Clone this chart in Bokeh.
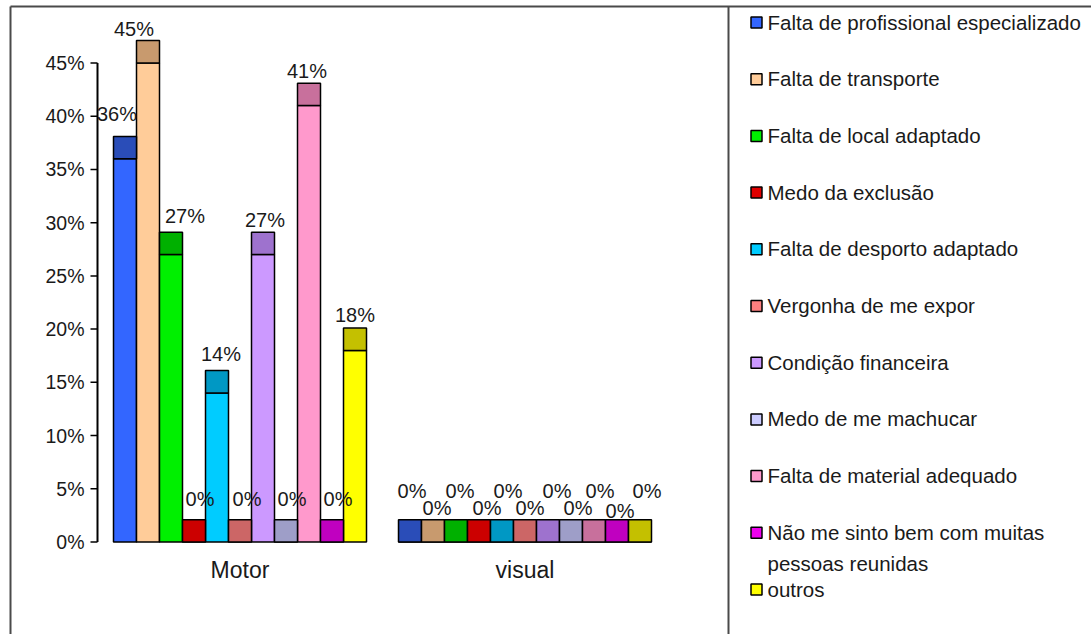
from bokeh.plotting import figure
from bokeh.models import Range1d, ColumnDataSource
from bokeh.core.properties import value
from bokeh.embed import file_html
from bokeh.resources import INLINE

# ---- data -------------------------------------------------------------
groups = ["Motor", "visual"]
reasons = [
    "Falta de profissional especializado",
    "Falta de transporte",
    "Falta de local adaptado",
    "Medo da exclusão",
    "Falta de desporto adaptado",
    "Vergonha de me expor",
    "Condição financeira",
    "Medo de me machucar",
    "Falta de material adequado",
    "Não me sinto bem com muitas\npessoas reunidas",
    "outros",
]
motor = [36, 45, 27, 0, 14, 0, 27, 0, 41, 0, 18]
visual = [0, 0, 0, 0, 0, 0, 0, 0, 0, 0, 0]
y_ticks = [0, 5, 10, 15, 20, 25, 30, 35, 40, 45]
y_tick_labels = ["0%", "5%", "10%", "15%", "20%", "25%", "30%", "35%", "40%", "45%"]

# ---- styling ----------------------------------------------------------
face = ["#3366FF", "#FFCC99", "#00F000", "#E00000", "#00CCFF", "#FF8080",
        "#CC99FF", "#CCCCFF", "#FF99CC", "#EE00EE", "#FFFF00"]
top_face = ["#2A4DB8", "#C89A6E", "#00B000", "#CC0000", "#0098C4", "#CC6666",
            "#9E72CE", "#9E9EC8", "#C8709C", "#C000C0", "#C4C000"]
FONT = "Liberation Sans"
INK = "#1a1a1a"

W, H = 1091, 634
AX_PX = 97          # pixel column of the value axis
SLOT_PX = 285       # pixel width of one category slot
ZERO_PX = 541.5     # pixel row of 0 %
PX_PER_PCT = 10.645
BAR_W = 23 / SLOT_PX
CAP = 2.1           # height of the bar top face, in %

def dx(px):
    return (px - AX_PX) / SLOT_PX

def dy(py):
    return (ZERO_PX - py) / PX_PER_PCT

p = figure(width=W, height=H,
           x_range=Range1d(dx(0), dx(W)), y_range=Range1d(dy(H), dy(0)),
           x_axis_type=None, y_axis_type=None,
           toolbar_location=None, output_backend="svg",
           min_border=0, outline_line_color=None,
           background_fill_color="white", border_fill_color="white")

# ---- bars -------------------------------------------------------------
label_dx = {"Motor": [-8, -14, 14, 6, 4, 7, 2, 6, -2, 6, 0],
            "visual": [2, 4, 4, 8, 6, 5, 9, 7, 6, 3, 7]}
label_rise = {"Motor": [22, 12, 16, 21, 17, 21, 12, 21, 12, 21, 13],
              "visual": [29, 12, 29, 12, 29, 12, 29, 12, 29, 9, 29]}

n = len(reasons)
for gi, (gname, vals) in enumerate(zip(groups, [motor, visual])):
    start = gi + 0.5 - n * BAR_W / 2
    left = [start + i * BAR_W for i in range(n)]
    right = [l + BAR_W for l in left]
    src = ColumnDataSource(dict(
        left=left, right=right,
        bottom=[0] * n, top=vals,
        cap_top=[v + CAP for v in vals],
        face=face, top_face=top_face,
        lx=[(l + r) / 2 + d / SLOT_PX for l, r, d in zip(left, right, label_dx[gname])],
        ly=[v + CAP + r / PX_PER_PCT for v, r in zip(vals, label_rise[gname])],
        txt=[f"{v}%" for v in vals],
    ))
    p.quad(left="left", right="right", bottom="bottom", top="top", source=src,
           fill_color="face", line_color="black", line_width=1.5)
    p.quad(left="left", right="right", bottom="top", top="cap_top", source=src,
           fill_color="top_face", line_color="black", line_width=1.5)
    p.text(x="lx", y="ly", text="txt", source=src,
           text_font=value(FONT), text_font_size="20px", text_color=INK,
           text_align="center", text_baseline="middle")

# category labels
p.text(x=[gi + 0.5 for gi in range(len(groups))], y=[dy(569)] * len(groups),
       text=groups, text_font=value(FONT), text_font_size="23px",
       text_color=INK, text_align="center", text_baseline="middle")

# ---- value axis -------------------------------------------------------
p.segment(x0=[0], y0=[y_ticks[0]], x1=[0], y1=[y_ticks[-1]],
          line_color="black", line_width=2)
p.segment(x0=[dx(90)] * len(y_ticks), y0=y_ticks, x1=[0] * len(y_ticks), y1=y_ticks,
          line_color="black", line_width=1.5)
p.text(x=[dx(84)] * len(y_ticks), y=y_ticks, text=y_tick_labels,
       text_font=value(FONT), text_font_size="19.5px", text_color=INK,
       text_align="right", text_baseline="middle")

# ---- frame lines ------------------------------------------------------
p.multi_line(xs=[[dx(10), dx(10)], [dx(10), dx(W + 5)], [dx(728), dx(728)]],
             ys=[[dy(6), dy(H + 5)], [dy(6), dy(6)], [dy(6), dy(H + 5)]],
             line_color="#4a4a4a", line_width=2)

# ---- legend -----------------------------------------------------------
rows = [22 + 56.7 * k for k in range(n)]
p.scatter(x=[dx(756)] * n, y=[dy(r) for r in rows], marker="square", size=11,
          fill_color=face, line_color="black", line_width=1.5)
p.text(x=[dx(767)] * n, y=[dy(r - 12) for r in rows], text=reasons,
       text_font=value(FONT), text_font_size="20.5px", text_color=INK,
       text_align="left", text_baseline="top", text_line_height=1.37)

open("out.html", "w").write(file_html(p, INLINE))
